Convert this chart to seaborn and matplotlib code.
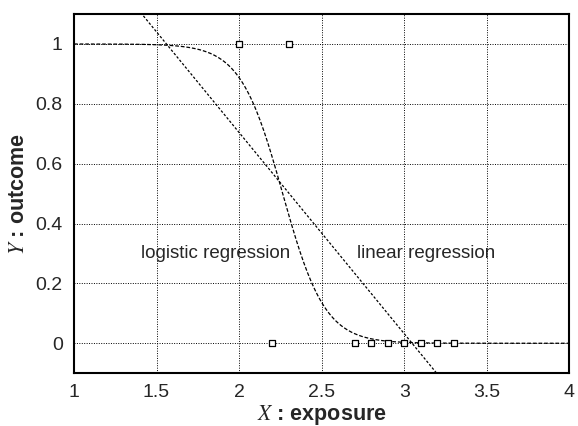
import numpy as np
import pandas as pd
import matplotlib
matplotlib.use("Agg")
import matplotlib.pyplot as plt
import seaborn as sns

#DATA----------
exposure = [2.0, 2.3, 2.2, 2.7, 2.8, 2.9, 3.0, 3.1, 3.2, 3.3]
outcome = [1, 1, 0, 0, 0, 0, 0, 0, 0, 0]
df = pd.DataFrame({"exposure": exposure, "outcome": outcome})

#FITS----------
x = df["exposure"].to_numpy()
y = df["outcome"].to_numpy()

# linear regression (least squares)
slope, intercept = np.polyfit(x, y, 1)

# logistic regression (newton iterations)
X = np.column_stack([np.ones_like(x), x])
beta = np.zeros(2)
for _ in range(50):
    p = 1 / (1 + np.exp(-X @ beta))
    W = p * (1 - p)
    H = X.T @ (X * W[:, None])
    g = X.T @ (y - p)
    beta = beta + np.linalg.solve(H, g)

grid = np.linspace(1, 4, 400)
curves = pd.DataFrame({
    "x": grid,
    "logistic": 1 / (1 + np.exp(-(beta[0] + beta[1] * grid))),
    "linear": intercept + slope * grid,
})

#PLOT----------
sns.set_style("ticks")
plt.rcParams["font.family"] = ["Liberation Sans", "DejaVu Sans"]
plt.rcParams["mathtext.fontset"] = "stix"

fig = plt.figure(figsize=(5.78, 4.26), dpi=100)
ax = fig.add_axes([0.128, 0.124, 0.857, 0.843])

ax.grid(True, color="black", linestyle=(0, (1, 1.5)), linewidth=0.7)
ax.set_axisbelow(True)

sns.lineplot(data=curves, x="x", y="logistic", ax=ax, color="black",
             linestyle=(0, (3, 1.5)), linewidth=0.9)
sns.lineplot(data=curves, x="x", y="linear", ax=ax, color="black",
             linestyle=(0, (2, 1.5)), linewidth=0.9)
sns.scatterplot(data=df, x="exposure", y="outcome", ax=ax, marker="s", s=18,
                facecolor="white", edgecolor="black", linewidth=0.9, zorder=5)

ax.set_xlim(1, 4)
ax.set_ylim(-0.1, 1.1)
ax.set_xticks([1, 1.5, 2, 2.5, 3, 3.5, 4])
ax.set_xticklabels(["1", "1.5", "2", "2.5", "3", "3.5", "4"])
ax.set_yticks([0, 0.2, 0.4, 0.6, 0.8, 1])
ax.set_yticklabels(["0", "0.2", "0.4", "0.6", "0.8", "1"])
ax.tick_params(labelsize=14, length=0, pad=8)
for s in ax.spines.values():
    s.set_linewidth(1.5)
    s.set_color("black")

ax.set_xlabel(r"$X$ : exposure", fontsize=15.5, fontweight="bold", labelpad=1)
ax.set_ylabel(r"$Y$ : outcome", fontsize=15.5, fontweight="bold", labelpad=5)

ax.text(1.86, 0.3, "logistic regression", fontsize=13.5, ha="center", va="center")
ax.text(3.13, 0.3, "linear regression", fontsize=13.5, ha="center", va="center")

plt.savefig("out.png", dpi=100)
